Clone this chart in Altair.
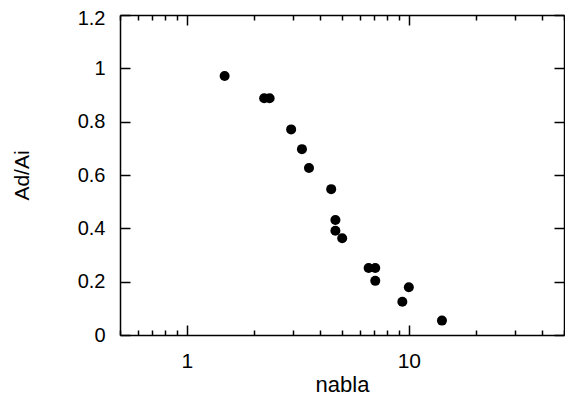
import altair as alt
import pandas as pd

nabla = [1.48, 2.23, 2.36, 2.95, 3.30, 3.55, 4.47, 4.67, 4.67, 5.01, 6.59, 7.06, 7.06, 10.0, 9.35, 14.1]
ratio = [0.971, 0.888, 0.888, 0.771, 0.697, 0.626, 0.547, 0.431, 0.391, 0.363, 0.251, 0.251, 0.203, 0.179, 0.125, 0.054]

x_major = [1, 10]
x_minor = [0.5, 0.6, 0.7, 0.8, 0.9, 2, 3, 4, 5, 6, 7, 8, 9, 20, 30, 40, 50]
y_ticks = [0, 0.2, 0.4, 0.6, 0.8, 1.0, 1.2]

df = pd.DataFrame({"nabla": nabla, "ratio": ratio})

W, H = 444, 320
FONT = "Liberation Sans"

xscale = alt.Scale(type="log", domain=[0.5, 50], nice=False)
yscale = alt.Scale(domain=[0, 1.2], nice=False, zero=False)

base = alt.Chart(df)


def tick_axis(orient, offset, values, size, domain=False):
    return alt.Axis(orient=orient, offset=offset, values=values, tickSize=size,
                    labels=False, domain=domain, domainColor="black", domainWidth=1.5,
                    grid=False, title="", tickColor="black", tickWidth=1.5)


def layer(xaxis, yaxis, visible=False):
    return base.mark_circle(size=100, color="black", opacity=1 if visible else 0).encode(
        x=alt.X("nabla:Q", scale=xscale, axis=xaxis),
        y=alt.Y("ratio:Q", scale=yscale, axis=yaxis),
    )


main = layer(
    alt.Axis(orient="bottom", values=x_major, format="~g", ticks=False,
             domain=True, domainColor="black", domainWidth=1.5, grid=False,
             title="nabla", labelFontSize=21, titleFontSize=22, labelFont=FONT, titleFont=FONT,
             labelColor="black", titleColor="black", titleFontWeight="normal",
             labelPadding=15, titlePadding=3),
    alt.Axis(orient="left", values=y_ticks, format="~g", ticks=False,
             domain=True, domainColor="black", domainWidth=1.5, grid=False,
             title="Ad/Ai", labelFontSize=20, titleFontSize=21, labelFont=FONT, titleFont=FONT,
             labelColor="black", titleColor="black", titleFontWeight="normal",
             labelPadding=15, titlePadding=45,
             labelOffset={"condition": {"test": "datum.value >= 1.19", "value": 3}, "value": 0}),
    visible=True,
)

l2 = layer(tick_axis("top", -H, x_minor, 5), tick_axis("right", -W, y_ticks, 10))
l3 = layer(tick_axis("top", -H, x_major, 10), tick_axis("left", -W, y_ticks, 10, domain=True))
l4 = layer(tick_axis("bottom", -H, x_minor, 5, domain=True), tick_axis("right", -W, [], 0))
l5 = layer(tick_axis("bottom", -H, x_major, 10), tick_axis("left", -W, [], 0))

chart = alt.layer(main, l2, l3, l4, l5).resolve_axis(
    x="independent", y="independent"
).properties(
    width=W, height=H,
    autosize=alt.AutoSizeParams(type="none"),
    padding={"left": 112, "top": 7, "right": 1, "bottom": 63},
).configure_view(stroke="black", strokeWidth=1.5).configure(background="white")

chart.save("out.html", embed_options={"renderer": "svg", "actions": False})
